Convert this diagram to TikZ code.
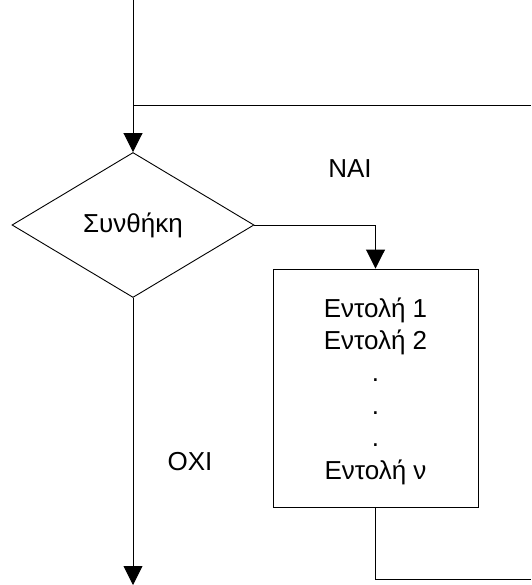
\documentclass[tikz,border=0pt]{standalone}
\usepackage{fontspec}
\setmainfont{Liberation Sans}
\usetikzlibrary{shapes.geometric,arrows.meta}
\begin{document}
\begin{tikzpicture}[x=1pt,y=-1pt,line width=0.9pt,
  txt/.style={font=\fontsize{26}{32.4}\selectfont,inner sep=0pt},
  flow/.style={-{Triangle[length=19pt,width=19pt]}},
  cond/.style={draw,diamond,minimum width=242pt,minimum height=145pt,aspect=1.67,inner sep=0pt},
  body/.style={draw,rectangle,minimum width=205pt,minimum height=238pt,inner sep=0pt}]
\useasboundingbox (0,0) rectangle (531,585);
\coordinate (entry) at (133,0);
\coordinate (join) at (133,105);
\coordinate (loopin) at (531,105);
\coordinate (loopout) at (531,579);
\coordinate (exit) at (133,585);
\node[cond,txt] (test) at (133,225) {Συνθήκη};
\node[body] (cmds) at (375.5,388) {};
\node[txt,align=center] (list) at (375.5,391) {Εντολή 1\\Εντολή 2\\.\\.\\.\\Εντολή ν};
\node[txt] (yes) at (350,169) {ΝΑΙ};
\node[txt] (no) at (190,462) {ΟΧΙ};
\draw[flow] (entry) -- (test.north);
\draw (join) -- (loopin);
\draw[flow] (test.east) -| (cmds.north);
\draw (cmds.south) |- (loopout);
\draw[flow] (test.south) -- (exit);
\end{tikzpicture}
\end{document}
